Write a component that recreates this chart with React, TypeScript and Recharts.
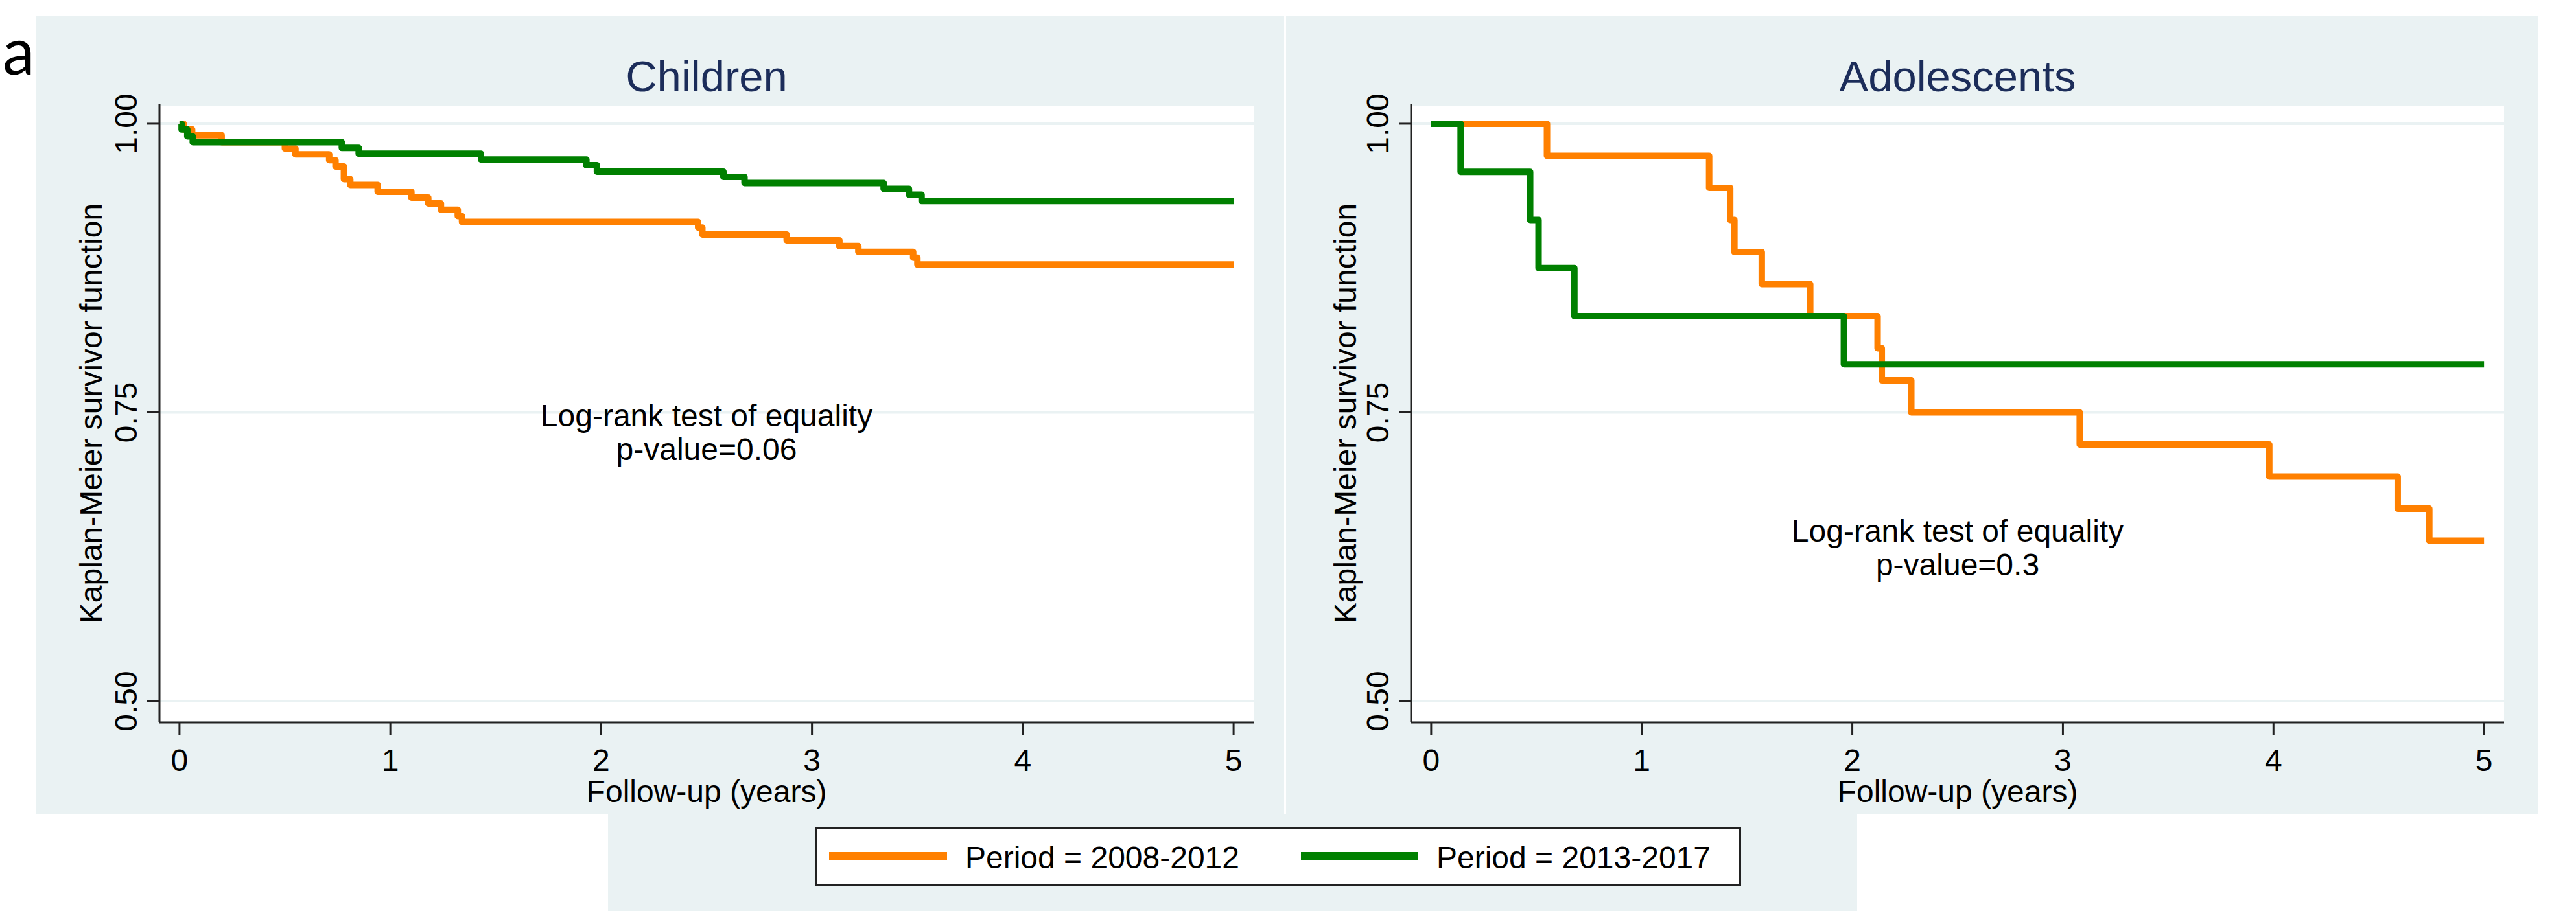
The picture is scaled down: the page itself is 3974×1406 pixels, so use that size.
import React from "react";
import { CartesianGrid, Line, LineChart, XAxis, YAxis } from "recharts";

// shared axis settings
const xTicks = [0, 1, 2, 3, 4, 5];
const yTicks = [0.5, 0.75, 1.0];
const seriesNames = ["Period = 2008-2012", "Period = 2013-2017"];
const seriesColors = ["#ff8000", "#008000"];

// Children, period 2008-2012 (step change times in years, survival after the step)
const childEarlyTime = [0, 0.02, 0.06, 0.2, 0.5, 0.55, 0.71, 0.74, 0.78, 0.81, 0.94, 1.1, 1.18, 1.24, 1.32, 1.34, 2.46, 2.48, 2.88, 3.13, 3.22, 3.48, 3.5, 5.0];
const childEarlySurv = [1.0, 0.995, 0.99, 0.984, 0.9785, 0.9735, 0.9684, 0.963, 0.952, 0.947, 0.941, 0.936, 0.931, 0.9255, 0.92, 0.915, 0.91, 0.904, 0.899, 0.894, 0.889, 0.884, 0.878, 0.878];

// Children, period 2013-2017
const childLateTime = [0, 0.01, 0.037, 0.063, 0.77, 0.85, 1.43, 1.93, 1.98, 2.58, 2.68, 3.34, 3.46, 3.52, 5.0];
const childLateSurv = [1.0, 0.995, 0.989, 0.984, 0.979, 0.974, 0.969, 0.964, 0.9585, 0.954, 0.9486, 0.9436, 0.9385, 0.933, 0.933];

// Adolescents, period 2008-2012
const adolEarlyTime = [0, 0.55, 1.32, 1.42, 1.44, 1.57, 1.8, 2.12, 2.14, 2.28, 3.08, 3.98, 4.59, 4.74, 5.0];
const adolEarlySurv = [1.0, 0.9722, 0.9444, 0.9167, 0.8889, 0.8611, 0.8333, 0.8056, 0.7778, 0.75, 0.7222, 0.6944, 0.6667, 0.6389, 0.6389];

// Adolescents, period 2013-2017
const adolLateTime = [0, 0.14, 0.47, 0.51, 0.68, 1.96, 5.0];
const adolLateSurv = [1.0, 0.9583, 0.9167, 0.875, 0.8333, 0.7917, 0.7917];

const FONT = "'Liberation Sans', Arial, sans-serif";
const PANEL_BG = "#eaf2f3";
const INK = "#000000";
const AXIS = "#222222";
const TITLE = "#1c2d5a";

const zip = (t: number[], s: number[]) => t.map((v, i) => ({ t: v, s: s[i] }));

const YTick = (props: any) => {
  const { x, y, payload } = props;
  return (
    <text
      x={x}
      y={y}
      transform={`rotate(-90, ${x}, ${y})`}
      textAnchor="middle"
      fontSize={48}
      fontFamily={FONT}
      fill={INK}
    >
      {Number(payload.value).toFixed(2)}
    </text>
  );
};

type PanelProps = {
  left: number;
  width: number;
  axisWidth: number;
  rightGap: number;
  series: { t: number; s: number }[][];
};

const PANEL_TOP = 25;
const PANEL_H = 1232;

function Panel({ left, width, axisWidth, rightGap, series }: PanelProps) {
  return (
    <div
      style={{
        position: "absolute",
        left,
        top: PANEL_TOP,
        width,
        height: PANEL_H,
        background: PANEL_BG,
      }}
    >
      <LineChart
        width={width}
        height={PANEL_H}
        margin={{ top: 136, right: rightGap, left: 0, bottom: 0 }}
      >
        <CartesianGrid
          vertical={false}
          stroke={PANEL_BG}
          strokeWidth={4}
          fill="#ffffff"
          fillOpacity={1}
        />
        <XAxis
          dataKey="t"
          type="number"
          domain={[-0.095, 5.095]}
          ticks={xTicks}
          allowDataOverflow
          height={142}
          tickSize={20}
          tickMargin={21}
          axisLine={{ stroke: AXIS, strokeWidth: 3 }}
          tickLine={{ stroke: AXIS, strokeWidth: 3 }}
          tick={{ fontSize: 48, fontFamily: FONT, fill: INK }}
        />
        <YAxis
          type="number"
          domain={[0.4815, 1.0168]}
          ticks={yTicks}
          allowDataOverflow
          width={axisWidth}
          tickSize={19}
          tickMargin={16}
          axisLine={{ stroke: AXIS, strokeWidth: 3 }}
          tickLine={{ stroke: AXIS, strokeWidth: 3 }}
          tick={<YTick />}
        />
        {series.map((d, i) => (
          <Line
            key={i}
            data={d}
            dataKey="s"
            type="stepAfter"
            stroke={seriesColors[i]}
            strokeWidth={10}
            strokeLinejoin="round"
            dot={false}
            activeDot={false}
            isAnimationActive={false}
          />
        ))}
      </LineChart>
    </div>
  );
}

function PanelText({ cx, yLabelX, title, pvalue, noteY }: { cx: number; yLabelX: number; title: string; pvalue: string; noteY: number }) {
  return (
    <g fontFamily={FONT}>
      <text x={cx} y={141} textAnchor="middle" fontSize={67} fill={TITLE}>
        {title}
      </text>
      <text x={cx} y={noteY} textAnchor="middle" fontSize={48} fill={INK}>
        Log-rank test of equality
      </text>
      <text x={cx} y={noteY + 52} textAnchor="middle" fontSize={48} fill={INK}>
        {pvalue}
      </text>
      <text x={cx} y={1238} textAnchor="middle" fontSize={48} fill={INK}>
        Follow-up (years)
      </text>
      <text
        x={yLabelX}
        y={638}
        transform={`rotate(-90, ${yLabelX}, 638)`}
        textAnchor="middle"
        fontSize={48}
        fill={INK}
      >
        Kaplan-Meier survivor function
      </text>
    </g>
  );
}

export default function App() {
  return (
    <div
      style={{
        position: "absolute",
        left: 0,
        top: 0,
        width: 3974,
        height: 1406,
        background: "#ffffff",
        overflow: "hidden",
      }}
    >
      <div
        style={{
          position: "absolute",
          left: 938,
          top: 1257,
          width: 1927,
          height: 149,
          background: PANEL_BG,
        }}
      />
      <Panel
        left={56}
        width={1925}
        axisWidth={190}
        rightGap={47}
        series={[zip(childEarlyTime, childEarlySurv), zip(childLateTime, childLateSurv)]}
      />
      <Panel
        left={1984}
        width={1931}
        axisWidth={193}
        rightGap={52}
        series={[zip(adolEarlyTime, adolEarlySurv), zip(adolLateTime, adolLateSurv)]}
      />
      <svg
        width={3974}
        height={1406}
        style={{ position: "absolute", left: 0, top: 0, pointerEvents: "none" }}
      >
        <text x={4} y={115} textAnchor="start" fontSize={100} fontFamily="Lato, 'Open Sans', sans-serif" fill={INK}>
          a
        </text>
        <PanelText cx={1090} yLabelX={157} title="Children" pvalue="p-value=0.06" noteY={658} />
        <PanelText cx={3020} yLabelX={2092} title="Adolescents" pvalue="p-value=0.3" noteY={836} />
        <g fontFamily={FONT}>
          <rect x={1259.5} y={1277.5} width={1425} height={88} fill="#ffffff" stroke={AXIS} strokeWidth={3} />
          <line x1={1279} x2={1461} y1={1321} y2={1321} stroke={seriesColors[0]} strokeWidth={12} />
          <text x={1489} y={1340} fontSize={48} fill={INK}>
            {seriesNames[0]}
          </text>
          <line x1={2007} x2={2188} y1={1321} y2={1321} stroke={seriesColors[1]} strokeWidth={12} />
          <text x={2216} y={1340} fontSize={48} fill={INK}>
            {seriesNames[1]}
          </text>
        </g>
      </svg>
    </div>
  );
}
